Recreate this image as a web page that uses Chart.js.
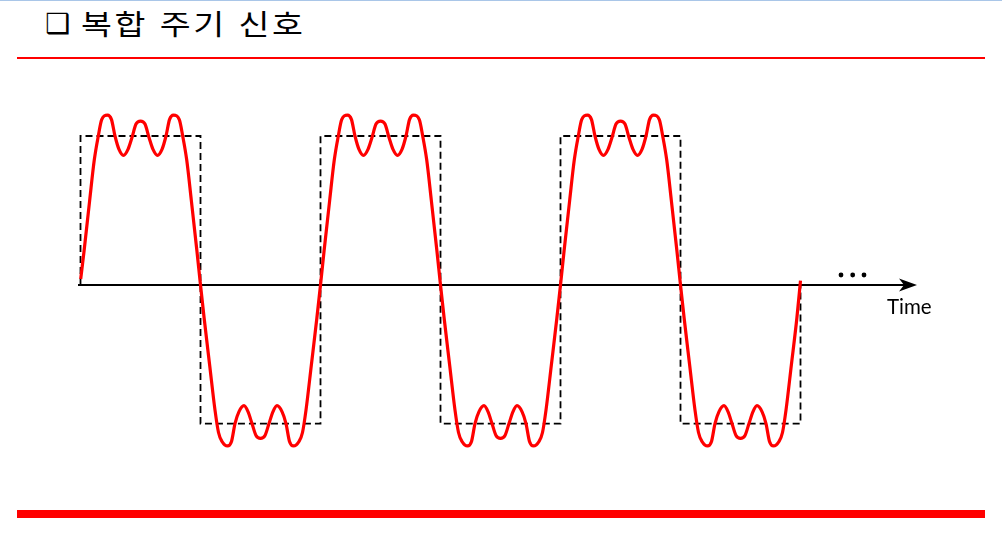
<!DOCTYPE html>
<html lang="ko">
<head>
<meta charset="utf-8">
<script src="https://cdn.jsdelivr.net/npm/chart.js@4.4.1/dist/chart.umd.min.js"></script>
<style>
  html, body { margin: 0; padding: 0; background: #ffffff; }
  #wrap { position: relative; width: 1002px; height: 552px; overflow: hidden; background: #fff; }
  #topline { position: absolute; left: 0; top: 0; width: 1002px; height: 1px; background: #a9c6e8; }
  #title { position: absolute; left: 0; top: 8px; width: 600px; height: 40px; white-space: nowrap; color: #000; }
  #title .box { position: absolute; left: 45px; top: 2px; font-family: "DejaVu Sans", sans-serif;
                font-size: 28px; line-height: 28px; }
  #title .txt { position: absolute; left: 81px; top: 1px; font-family: "Noto Sans CJK KR", sans-serif;
                font-size: 28px; line-height: 28px; letter-spacing: 2.1px;
                transform: scaleX(1.2); transform-origin: 0 0; }
  #rule1 { position: absolute; left: 17px; top: 57px; width: 968px; height: 2px; background: #ff0000; }
  #rule2 { position: absolute; left: 17px; top: 510px; width: 968px; height: 8px; background: #ff0000; }
  #timeLbl { position: absolute; left: 887px; top: 296px; font-family: "Lato", sans-serif;
             font-size: 20.5px; line-height: 20px; color: #000; }
  canvas { position: absolute; left: 0; top: 0; }
</style>
</head>
<body>
<div id="wrap">
  <div id="topline"></div>
  <div id="title"><span class="box">❑</span><span class="txt" id="titleTxt">복합 주기 신호</span></div>
  <div id="rule1"></div>
  <canvas id="c" width="1002" height="552"></canvas>
  <div id="timeLbl">Time</div>
  <div id="rule2"></div>
</div>
<script>
// ---- data (time in ms, amplitude in units of the square-wave high level) ----
const titleText = "복합 주기 신호";
const axisLabel = "Time";

// composite periodic signal (red)
const signalTime = [
  0.2, 3.6, 9.2, 13.8, 17.8, 21.2, 27, 31, 34.5, 38.5, 43, 47.5, 51.5, 55.5, 60, 64.5, 68.5, 72.5, 77, 81.5, 85.5, 89, 93, 98.8, 102.2, 106.2, 110.8, 116.4,
  120, 123.6, 129.2, 134.5, 138, 141.5, 147, 151, 154.5, 158.5, 163.5, 167.5, 171.5, 175.5, 180, 184.5, 188.5, 192.5, 196.5, 201.5, 205.5, 209, 213, 218.5, 222, 225.5, 230.8, 236.4,
  240, 243.6, 249.2, 253.8, 257.8, 261.2, 267, 271, 274.5, 278.5, 283, 287.5, 291.5, 295.5, 300, 304.5, 308.5, 312.5, 317, 321.5, 325.5, 329, 333, 338.8, 342.2, 346.2, 350.8, 356.4,
  360, 363.6, 369.2, 374.5, 378, 381.5, 387, 391, 394.5, 398.5, 403.5, 407.5, 411.5, 415.5, 420, 424.5, 428.5, 432.5, 436.5, 441.5, 445.5, 449, 453, 458.5, 462, 465.5, 470.8, 476.4,
  480, 483.6, 489.2, 493.8, 497.8, 501.2, 507, 511, 514.5, 518.5, 523, 527.5, 531.5, 535.5, 540, 544.5, 548.5, 552.5, 557, 561.5, 565.5, 569, 573, 578.8, 582.2, 586.2, 590.8, 596.4,
  600, 603.6, 609.2, 614.5, 618, 621.5, 627, 631, 634.5, 638.5, 643.5, 647.5, 651.5, 655.5, 660, 664.5, 668.5, 672.5, 676.5, 681.5, 685.5, 689, 693, 698.5, 702, 705.5, 710.8, 716.4,
  720
];
const signalAmp = [
  0.04, 0.23, 0.57, 0.84, 1.00, 1.11, 1.14, 1.11, 1.00, 0.91, 0.87, 0.91, 0.99, 1.08, 1.10, 1.08, 0.99, 0.91, 0.87, 0.91, 1.00, 1.11, 1.14, 1.11, 1.00, 0.84, 0.57, 0.23,
  0, -0.22, -0.54, -0.84, -0.99, -1.05, -1.08, -1.05, -0.93, -0.85, -0.81, -0.85, -0.93, -1.01, -1.03, -1.01, -0.93, -0.85, -0.81, -0.85, -0.93, -1.05, -1.08, -1.05, -0.99, -0.84, -0.54, -0.22,
  0, 0.23, 0.57, 0.84, 1.00, 1.11, 1.14, 1.11, 1.00, 0.91, 0.87, 0.91, 0.99, 1.08, 1.10, 1.08, 0.99, 0.91, 0.87, 0.91, 1.00, 1.11, 1.14, 1.11, 1.00, 0.84, 0.57, 0.23,
  0, -0.22, -0.54, -0.84, -0.99, -1.05, -1.08, -1.05, -0.93, -0.85, -0.81, -0.85, -0.93, -1.01, -1.03, -1.01, -0.93, -0.85, -0.81, -0.85, -0.93, -1.05, -1.08, -1.05, -0.99, -0.84, -0.54, -0.22,
  0, 0.23, 0.57, 0.84, 1.00, 1.11, 1.14, 1.11, 1.00, 0.91, 0.87, 0.91, 0.99, 1.08, 1.10, 1.08, 0.99, 0.91, 0.87, 0.91, 1.00, 1.11, 1.14, 1.11, 1.00, 0.84, 0.57, 0.23,
  0, -0.22, -0.54, -0.84, -0.99, -1.05, -1.08, -1.05, -0.93, -0.85, -0.81, -0.85, -0.93, -1.01, -1.03, -1.01, -0.93, -0.85, -0.81, -0.85, -0.93, -1.05, -1.08, -1.05, -0.99, -0.84, -0.54, -0.22,
  0.03
];

// reference square wave (dashed)
const squareTime = [0, 0, 120, 120, 240, 240, 360, 360, 480, 480, 600, 600, 720, 720];
const squareAmp  = [0, 1, 1, -0.93, -0.93, 1, 1, -0.93, -0.93, 1, 1, -0.93, -0.93, 0];

// continuation dots ("...") on the time axis
const dotsTime = [760.5, 772.2, 783.5];
const dotsAmp  = [0.067, 0.067, 0.067];

document.getElementById('timeLbl').textContent = axisLabel;
document.getElementById('titleTxt').textContent = titleText;

const toPts = (xs, ys) => xs.map((x, i) => ({ x: x, y: ys[i] }));

const axisPlugin = {
  id: 'timeAxis',
  beforeDatasetsDraw(chart) {
    const ctx = chart.ctx, xs = chart.scales.x, ys = chart.scales.y;
    const y0 = ys.getPixelForValue(0);
    const left = chart.chartArea.left, tip = chart.chartArea.right;
    ctx.save();
    ctx.strokeStyle = '#000'; ctx.fillStyle = '#000';
    ctx.lineWidth = 1.8;
    ctx.beginPath(); ctx.moveTo(left, y0); ctx.lineTo(tip - 12, y0); ctx.stroke();
    ctx.beginPath();
    ctx.moveTo(tip, y0);
    ctx.lineTo(tip - 18, y0 - 6.5);
    ctx.lineTo(tip - 13, y0);
    ctx.lineTo(tip - 18, y0 + 6.5);
    ctx.closePath(); ctx.fill();
    dotsTime.forEach((t, i) => {
      ctx.beginPath();
      ctx.arc(xs.getPixelForValue(t), ys.getPixelForValue(dotsAmp[i]), 2.4, 0, Math.PI * 2);
      ctx.fill();
    });
    ctx.restore();
  }
};

new Chart(document.getElementById('c'), {
  type: 'line',
  data: {
    datasets: [
      {
        label: 'composite signal',
        data: toPts(signalTime, signalAmp),
        borderColor: '#ff0000',
        borderWidth: 3.2,
        pointRadius: 0,
        cubicInterpolationMode: 'monotone',
        fill: false,
        order: 0,
        clip: false
      },
      {
        label: 'square wave',
        data: toPts(squareTime, squareAmp),
        borderColor: '#000000',
        borderWidth: 1.8,
        borderDash: [7, 4],
        pointRadius: 0,
        tension: 0,
        fill: false,
        order: 1,
        clip: false
      }
    ]
  },
  options: {
    responsive: false,
    animation: false,
    events: [],
    layout: { padding: { left: 78, right: 85, top: 98.75, bottom: 80.75 } },
    plugins: { legend: { display: false }, tooltip: { enabled: false }, title: { display: false } },
    scales: {
      x: { type: 'linear', display: false, min: -2.5, max: 836.5 },
      y: { type: 'linear', display: false, min: -1.25, max: 1.25 }
    }
  },
  plugins: [axisPlugin]
});
</script>
</body>
</html>
